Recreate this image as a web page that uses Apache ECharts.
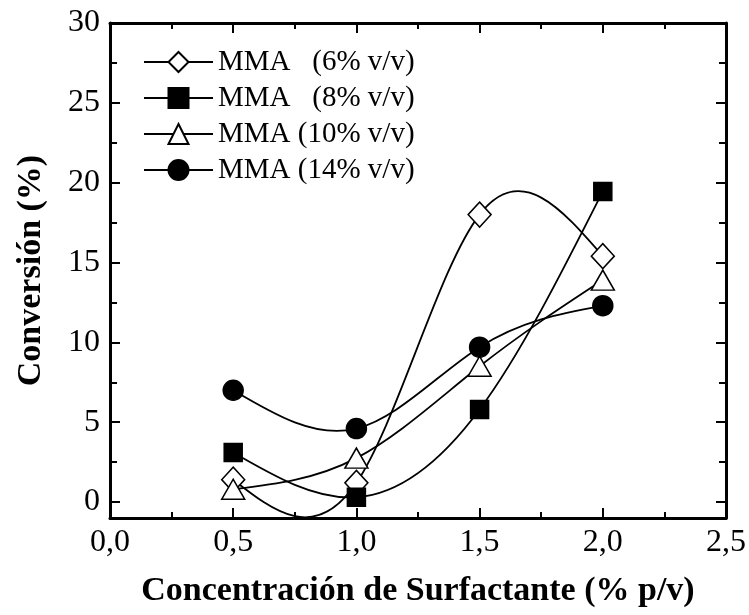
<!DOCTYPE html>
<html>
<head>
<meta charset="utf-8">
<script src="https://cdn.jsdelivr.net/npm/echarts@6/dist/echarts.min.js"></script>
<style>
  html, body { margin: 0; padding: 0; background: #fff; }
  #chart { width: 749px; height: 615px; }
</style>
</head>
<body>
<div id="chart"></div>
<script>
// ---- data ----
const xValues = [0.5, 1.0, 1.5, 2.0];
const mma6  = [1.4, 1.2, 18.0, 15.4];
const mma8  = [3.1, 0.3, 5.8, 19.45];
const mma10 = [0.8, 2.75, 8.5, 13.9];
const mma14 = [7.0, 4.6, 9.7, 12.3];
const seriesNames = [
  'MMA\u00a0\u00a0\u00a0(6% v/v)',
  'MMA\u00a0\u00a0\u00a0(8% v/v)',
  'MMA (10% v/v)',
  'MMA (14% v/v)'
];
const xTicks = [0, 0.5, 1.0, 1.5, 2.0, 2.5];
const xTickLabels = ['0,0', '0,5', '1,0', '1,5', '2,0', '2,5'];
const yMajorTicks = [0, 5, 10, 15, 20, 25, 30];
const yMinorTicks = [2.5, 7.5, 12.5, 17.5, 22.5, 27.5];

const FONT = "'Liberation Serif', 'Times New Roman', serif";

// natural cubic spline slopes (used only to shape the connecting curve)
function splineSlopes(xs, ys) {
  const n = xs.length;
  const h = [];
  for (let i = 0; i < n - 1; i++) h.push(xs[i + 1] - xs[i]);
  const a = [], b = [], c = [], d = [];
  for (let i = 1; i < n - 1; i++) {
    a.push(h[i - 1]);
    b.push(2 * (h[i - 1] + h[i]));
    c.push(h[i]);
    d.push(6 * ((ys[i + 1] - ys[i]) / h[i] - (ys[i] - ys[i - 1]) / h[i - 1]));
  }
  const m = d.length;
  const cp = [], dp = [];
  for (let i = 0; i < m; i++) {
    const den = b[i] - (i > 0 ? a[i] * cp[i - 1] : 0);
    cp.push(c[i] / den);
    dp.push((d[i] - (i > 0 ? a[i] * dp[i - 1] : 0)) / den);
  }
  const inner = new Array(m);
  for (let i = m - 1; i >= 0; i--) inner[i] = dp[i] - (i < m - 1 ? cp[i] * inner[i + 1] : 0);
  const M = [0].concat(inner, [0]);
  const slopes = [];
  for (let i = 0; i < n - 1; i++) {
    slopes.push((ys[i + 1] - ys[i]) / h[i] - h[i] * (2 * M[i] + M[i + 1]) / 6);
  }
  slopes.push((ys[n - 1] - ys[n - 2]) / h[n - 2] + h[n - 2] * (M[n - 2] + 2 * M[n - 1]) / 6);
  return slopes;
}

function pairs(ys) { return xValues.map((x, i) => [x, ys[i]]); }

function curveSeries(ys, id) {
  const slopes = splineSlopes(xValues, ys);
  return {
    type: 'custom',
    name: 'curve' + id,
    clip: true,
    z: 2,
    silent: true,
    data: pairs(ys),
    renderItem: function (params, api) {
      const i = params.dataIndex;
      if (i >= xValues.length - 1) return null;
      const x0 = xValues[i], x1 = xValues[i + 1];
      const y0 = ys[i], y1 = ys[i + 1];
      const hh = x1 - x0;
      const p0 = api.coord([x0, y0]);
      const p1 = api.coord([x1, y1]);
      const c0 = api.coord([x0 + hh / 3, y0 + slopes[i] * hh / 3]);
      const c1 = api.coord([x1 - hh / 3, y1 - slopes[i + 1] * hh / 3]);
      return {
        type: 'bezierCurve',
        shape: { x1: p0[0], y1: p0[1], x2: p1[0], y2: p1[1],
                 cpx1: c0[0], cpy1: c0[1], cpx2: c1[0], cpy2: c1[1] },
        style: { fill: 'none', stroke: '#000', lineWidth: 1.8 }
      };
    }
  };
}

function markerSeries(ys, name, symbol, size, fill) {
  return {
    type: 'line',
    name: name,
    data: pairs(ys),
    symbol: symbol,
    symbolSize: size,
    showAllSymbol: true,
    z: 4,
    lineStyle: { opacity: 0, color: '#000' },
    itemStyle: { color: fill, borderColor: '#000', borderWidth: 1.5, opacity: 1 },
    emphasis: { disabled: true },
    animation: false
  };
}

const chart = echarts.init(document.getElementById('chart'), null, { renderer: 'canvas' });

const axisLineStyle = { color: '#000', width: 3 };
const tickLine = { color: '#000', width: 2 };

const option = {
  backgroundColor: '#fff',
  animation: false,
  grid: { left: 110, right: 23, top: 23, bottom: 97, containLabel: false },
  legend: {
    data: seriesNames,
    orient: 'vertical',
    left: 143,
    top: 47,
    padding: 0,
    itemWidth: 69,
    itemHeight: 25,
    itemGap: 6,
    textStyle: { fontFamily: FONT, fontSize: 29, color: '#000', lineHeight: 30 },
    lineStyle: { color: '#000', width: 2, opacity: 1 },
    selectedMode: false
  },
  xAxis: [
    {
      type: 'value', position: 'bottom', min: 0, max: 2.5, interval: 0.5,
      axisLine: { show: true, onZero: false, lineStyle: axisLineStyle },
      axisTick: { show: true, inside: true, length: 10, lineStyle: tickLine },
      minorTick: { show: true, splitNumber: 2, length: 6, lineStyle: tickLine },
      splitLine: { show: false },
      axisLabel: {
        margin: 9, fontFamily: FONT, fontSize: 32, color: '#000',
        formatter: v => { const k = xTicks.findIndex(t => Math.abs(t - v) < 1e-6); return k >= 0 ? xTickLabels[k] : ''; }
      },
      name: 'Concentración de Surfactante (% p/v)',
      nameLocation: 'middle',
      nameGap: 56,
      nameTextStyle: { fontFamily: FONT, fontSize: 34, fontWeight: 'bold', color: '#000' }
    },
    {
      type: 'value', position: 'top', min: 0, max: 2.5, interval: 0.5,
      axisLine: { show: true, onZero: false, lineStyle: axisLineStyle },
      axisTick: { show: true, inside: true, length: 10, lineStyle: tickLine },
      minorTick: { show: true, splitNumber: 2, length: 6, lineStyle: tickLine },
      splitLine: { show: false },
      axisLabel: { show: false }
    }
  ],
  yAxis: [
    {
      type: 'value', position: 'left', min: -1, max: 30,
      axisLine: { show: true, onZero: false, lineStyle: axisLineStyle },
      axisTick: { show: true, inside: true, length: 10, lineStyle: tickLine, customValues: yMajorTicks },
      splitLine: { show: false },
      axisLabel: { margin: 10, fontFamily: FONT, fontSize: 32, color: '#000', customValues: yMajorTicks },
      name: 'Conversión (%)',
      nameLocation: 'middle',
      nameGap: 62,
      nameRotate: 90,
      nameTextStyle: { fontFamily: FONT, fontSize: 34, fontWeight: 'bold', color: '#000' }
    },
    {
      type: 'value', position: 'left', min: -1, max: 30,
      axisLine: { show: false, onZero: false },
      axisTick: { show: true, inside: true, length: 7, lineStyle: tickLine, customValues: yMinorTicks },
      splitLine: { show: false },
      axisLabel: { show: false }
    },
    {
      type: 'value', position: 'right', min: -1, max: 30,
      axisLine: { show: true, onZero: false, lineStyle: axisLineStyle },
      axisTick: { show: true, inside: true, length: 10, lineStyle: tickLine, customValues: yMajorTicks },
      splitLine: { show: false },
      axisLabel: { show: false }
    },
    {
      type: 'value', position: 'right', min: -1, max: 30,
      axisLine: { show: false, onZero: false },
      axisTick: { show: true, inside: true, length: 7, lineStyle: tickLine, customValues: yMinorTicks },
      splitLine: { show: false },
      axisLabel: { show: false }
    }
  ],
  series: [
    curveSeries(mma6, 6),
    curveSeries(mma8, 8),
    curveSeries(mma10, 10),
    curveSeries(mma14, 14),
    markerSeries(mma6, seriesNames[0], 'diamond', [23, 25], '#fff'),
    markerSeries(mma8, seriesNames[1], 'rect', [18, 18], '#000'),
    markerSeries(mma10, seriesNames[2], 'triangle', [23, 20], '#fff'),
    markerSeries(mma14, seriesNames[3], 'circle', 20, '#000')
  ]
};

chart.setOption(option);
</script>
</body>
</html>
